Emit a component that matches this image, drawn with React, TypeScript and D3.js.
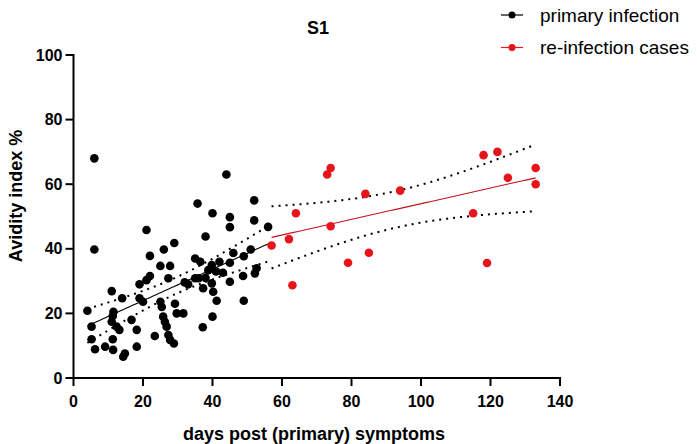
import React from "react";
import * as d3 from "d3";

// ---- data ----
const primaryDays = [
  6, 21, 6, 35.7, 22, 26, 29, 35,
  44, 40, 52, 45, 45, 52, 38, 56, 46, 49, 51,
  39.8, 45, 43, 52.7, 52.2, 35, 38.8, 39.8, 45, 48.8, 37.3, 40.2, 41.2, 49, 40, 37.2,
  25, 27.8, 22, 21, 19, 27.3, 32, 36, 11, 14, 19, 20, 25, 25.4, 29.2, 29.7, 31.6,
  4, 11.5, 11.3, 16.7, 11, 25.8, 26.3, 5.2, 12.4, 13.2, 18.2, 26.8, 23.4, 27.3,
  27.8, 28.9, 5.2, 11.3, 9.1, 6.2, 11.4, 14.8, 14.3, 18.2,
  36.5, 42, 38, 41, 33,
];
const primaryAvidity = [
  68, 45.8, 39.8, 54, 37.8, 39.8, 41.8, 37,
  63, 51, 55, 49.8, 46.7, 48.8, 43.8, 46.8, 38.7, 37.7, 39.8,
  35, 35.7, 32.6, 34, 32.4, 30.9, 33.4, 29.3, 29.8, 31.6, 27.8, 26.7, 23.9, 23.9, 19, 15.7,
  34.7, 34.7, 31.6, 30.3, 29, 30.9, 29.6, 30.9, 26.9, 24.7, 24.7, 23.6, 23.6, 22, 23, 20, 20,
  20.8, 20.5, 19.2, 18, 17.4, 19, 17.4, 15.9, 15.9, 14.9, 14.9, 15.9, 13, 13.3,
  11.8, 10.7, 12, 12, 9.7, 8.9, 8.7, 7.6, 6.6, 9.7,
  36, 36, 31, 33, 29,
];
const reinfDays = [57, 62, 64, 63, 73, 74, 74, 79, 84, 85, 94, 115, 118, 119, 122, 125, 133, 133];
const reinfAvidity = [41, 43, 51, 28.7, 63, 65, 47, 35.7, 57, 38.8, 58, 51, 69, 35.6, 70, 62, 65, 60];

const xTicks = [0, 20, 40, 60, 80, 100, 120, 140];
const yTicks = [0, 20, 40, 60, 80, 100];

const seriesNames = ["primary infection", "re-infection cases"];
const seriesColors = ["#000000", "#e8141b"];
const fitColors = ["#000000", "#c0141b"];

const W = 697;
const H = 444;

function tQuantile975(df: number) {
  const z = 1.959964;
  return (
    z +
    (z ** 3 + z) / (4 * df) +
    (5 * z ** 5 + 16 * z ** 3 + 3 * z) / (96 * df * df)
  );
}

function linFit(xs: number[], ys: number[]) {
  const n = xs.length;
  const mx = d3.mean(xs)!;
  const my = d3.mean(ys)!;
  let sxx = 0;
  let sxy = 0;
  for (let i = 0; i < n; i++) {
    sxx += (xs[i] - mx) ** 2;
    sxy += (xs[i] - mx) * (ys[i] - my);
  }
  const b = sxy / sxx;
  const a = my - b * mx;
  let sse = 0;
  for (let i = 0; i < n; i++) sse += (ys[i] - (a + b * xs[i])) ** 2;
  const s = Math.sqrt(sse / (n - 2));
  const t = tQuantile975(n - 2);
  const x0 = d3.min(xs)!;
  const x1 = d3.max(xs)!;
  const grid = d3.range(0, 61).map((i) => x0 + ((x1 - x0) * i) / 60);
  const band = grid.map((x) => {
    const yh = a + b * x;
    const se = s * Math.sqrt(1 / n + (x - mx) ** 2 / sxx);
    return { x, y: yh, lo: yh - t * se, hi: yh + t * se };
  });
  return { a, b, x0, x1, band };
}

export default function App() {
  const x = d3.scaleLinear().domain([0, 140]).range([73.5, 560]);
  const y = d3.scaleLinear().domain([0, 100]).range([378, 55]);

  const series = [
    { xs: primaryDays, ys: primaryAvidity },
    { xs: reinfDays, ys: reinfAvidity },
  ];
  const fits = series.map((s) => linFit(s.xs, s.ys));

  const lineGen = (key: "y" | "lo" | "hi") =>
    d3
      .line<{ x: number; y: number; lo: number; hi: number }>()
      .x((d) => x(d.x))
      .y((d) => y(d[key]));

  const tickFont = "'Liberation Sans', Arial, sans-serif";

  return (
    <svg
      width={W}
      height={H}
      style={{ position: "absolute", left: 0, top: 0, background: "#fff" }}
      fontFamily={tickFont}
    >
      <rect width={W} height={H} fill="#fff" />
      {/* title */}
      <text x={318} y={34} textAnchor="middle" fontSize={18} fontWeight="bold">
        S1
      </text>

      {/* fits and bands */}
      {fits.map((f, i) => (
        <g key={"fit" + i}>
          <path
            d={lineGen("hi")(f.band)!}
            fill="none"
            stroke="#000"
            strokeWidth={2}
            strokeDasharray="2,5"
          />
          <path
            d={lineGen("lo")(f.band)!}
            fill="none"
            stroke="#000"
            strokeWidth={2}
            strokeDasharray="2,5"
          />
          <path d={lineGen("y")(f.band)!} fill="none" stroke={fitColors[i]} strokeWidth={1.1} />
        </g>
      ))}

      {/* points */}
      {series.map((s, i) => (
        <g key={"pts" + i} fill={seriesColors[i]}>
          {s.xs.map((d, j) => (
            <circle key={j} cx={x(d)} cy={y(s.ys[j])} r={4.3} />
          ))}
        </g>
      ))}

      {/* y axis */}
      <line x1={x(0)} x2={x(0)} y1={y(0) + 1} y2={y(100) - 1} stroke="#000" strokeWidth={2} />
      {yTicks.map((t) => (
        <g key={"yt" + t}>
          <line x1={x(0) - 8} x2={x(0)} y1={y(t)} y2={y(t)} stroke="#000" strokeWidth={2} />
          <text
            x={x(0) - 11}
            y={y(t)}
            textAnchor="end"
            dominantBaseline="central"
            fontSize={16}
            fontWeight="bold"
          >
            {t}
          </text>
        </g>
      ))}
      {/* x axis */}
      <line x1={x(0) - 1} x2={x(140) + 1} y1={y(0)} y2={y(0)} stroke="#000" strokeWidth={2} />
      {xTicks.map((t) => (
        <g key={"xt" + t}>
          <line x1={x(t)} x2={x(t)} y1={y(0)} y2={y(0) + 8} stroke="#000" strokeWidth={2} />
          <text x={x(t)} y={407} textAnchor="middle" fontSize={16} fontWeight="bold">
            {t}
          </text>
        </g>
      ))}

      {/* axis titles */}
      <text x={314} y={440} textAnchor="middle" fontSize={18} fontWeight="bold">
        days post (primary) symptoms
      </text>
      <text
        transform={`translate(22, 196) rotate(-90)`}
        textAnchor="middle"
        fontSize={18}
        fontWeight="bold"
      >
        Avidity index %
      </text>

      {/* legend */}
      {seriesNames.map((name, i) => (
        <g key={"lg" + i} transform={`translate(0, ${15 + i * 32.5})`}>
          <line x1={501} x2={523} y1={0} y2={0} stroke={seriesColors[i]} strokeWidth={1.2} />
          <circle cx={512} cy={0} r={3.5} fill={seriesColors[i]} />
          <text x={540} y={0} dominantBaseline="central" fontSize={19}>
            {name}
          </text>
        </g>
      ))}
    </svg>
  );
}
